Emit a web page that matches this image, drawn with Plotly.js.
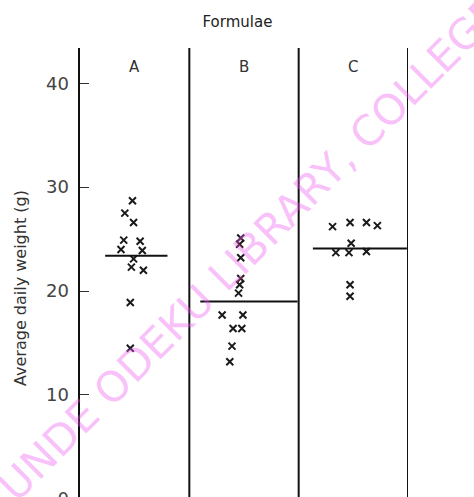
<!DOCTYPE html>
<html>
<head>
<meta charset="utf-8">
<script src="https://cdn.plot.ly/plotly-3.0.1.min.js"></script>
<style>
html,body{margin:0;padding:0;overflow:hidden;background:#fff;}
#chart{width:474px;height:510px;}
</style>
</head>
<body>
<div id="chart"></div>
<script>
// ---- data ----
const formulae = ['A', 'B', 'C'];
const categoryCentres = [0.5, 1.5, 2.5];
const valuesA = [28.7, 27.5, 26.6, 24.9, 24.8, 24.0, 23.9, 23.1, 22.3, 22.0, 18.9, 14.5];
const jitterA = [-0.02, -0.09, -0.01, -0.10, 0.05, -0.125, 0.07, -0.01, -0.03, 0.08, -0.04, -0.04];
const valuesB = [25.1, 24.5, 23.2, 21.2, 20.6, 19.8, 17.7, 17.7, 16.4, 16.4, 14.7, 13.2];
const jitterB = [-0.03, -0.04, -0.03, -0.03, -0.04, -0.05, -0.20, -0.01, -0.10, -0.02, -0.11, -0.13];
const valuesC = [26.2, 26.6, 26.6, 26.3, 24.6, 23.7, 23.7, 23.8, 20.6, 19.5];
const jitterC = [-0.19, -0.03, 0.12, 0.22, -0.02, -0.16, -0.04, 0.12, -0.03, -0.03];
const averageLines = [23.4, 19.0, 24.1];
const lineLeft = [-0.27, -0.40, -0.37];
const lineRight = [0.30, 0.49, 0.49];
const yTickVals = [0, 10, 20, 30, 40];
const yTickText = ['0', '10', '20', '30', '40'];

const groups = [
  {vals: valuesA, jit: jitterA},
  {vals: valuesB, jit: jitterB},
  {vals: valuesC, jit: jitterC}
];

const traces = [];
groups.forEach((g, i) => {
  traces.push({
    type: 'scatter', mode: 'markers',
    x: g.jit.map(d => categoryCentres[i] + d),
    y: g.vals,
    marker: {symbol: 'x-thin', size: 7, line: {width: 2, color: '#1a1a1a'}, color: '#1a1a1a'},
    hoverinfo: 'y', showlegend: false
  });
  traces.push({
    type: 'scatter', mode: 'lines',
    x: [categoryCentres[i] + lineLeft[i], categoryCentres[i] + lineRight[i]],
    y: [averageLines[i], averageLines[i]],
    line: {color: '#111', width: 2},
    hoverinfo: 'skip', showlegend: false
  });
});

const shapes = [1, 2, 3].map(xv => ({
  type: 'line', xref: 'x', yref: 'paper', x0: xv, x1: xv, y0: 0, y1: 1,
  line: {color: '#111', width: 2}
}));

// plot area: top 48px, bottom 510px -> 462px tall
const plotH = 462;
const annotations = formulae.map((f, i) => ({
  x: categoryCentres[i], y: 41.6, xref: 'x', yref: 'y',
  text: f, showarrow: false, xanchor: 'center', yanchor: 'middle',
  font: {family: 'DejaVu Sans', size: 15, color: '#333'}
}));
annotations.push({
  xref: 'paper', yref: 'paper', x: -0.183, y: (510 - 288) / plotH,
  text: 'Average daily weight (g)', textangle: -90, showarrow: false,
  xanchor: 'center', yanchor: 'middle',
  font: {family: 'DejaVu Sans', size: 16, color: '#333'}
});
annotations.push({
  xref: 'paper', yref: 'paper', x: 0.49, y: (510 - 258) / plotH,
  text: 'TUNDE ODEKU LIBRARY, COLLEGE', textangle: -45, showarrow: false,
  xanchor: 'center', yanchor: 'middle',
  font: {family: 'DejaVu Sans', size: 42, color: 'rgba(240,90,240,0.38)'}
});

const layout = {
  width: 474, height: 510,
  margin: {l: 80, r: 66, t: 48, b: 0},
  paper_bgcolor: '#fff', plot_bgcolor: '#fff',
  title: {
    text: 'Formulae', xref: 'paper', x: 0.48, xanchor: 'center',
    yref: 'container', y: 1 - 22 / 510, yanchor: 'middle',
    font: {family: 'DejaVu Sans', size: 15, color: '#222'}
  },
  xaxis: {range: [0, 3], visible: false, showgrid: false, zeroline: false, fixedrange: true},
  yaxis: {
    range: [-1.08, 43.4], showgrid: false, zeroline: false,
    showline: true, linewidth: 2.5, linecolor: '#111',
    ticks: 'inside', ticklen: 9, tickwidth: 1, tickcolor: '#333',
    tickvals: yTickVals, ticktext: yTickText, ticklabelstandoff: 5,
    ticklabeloverflow: 'allow',
    tickfont: {family: 'DejaVu Sans', size: 18, color: '#444'},
    fixedrange: true
  },
  shapes: shapes,
  annotations: annotations
};

Plotly.newPlot('chart', traces, layout, {staticPlot: true, displayModeBar: false});
</script>
</body>
</html>
